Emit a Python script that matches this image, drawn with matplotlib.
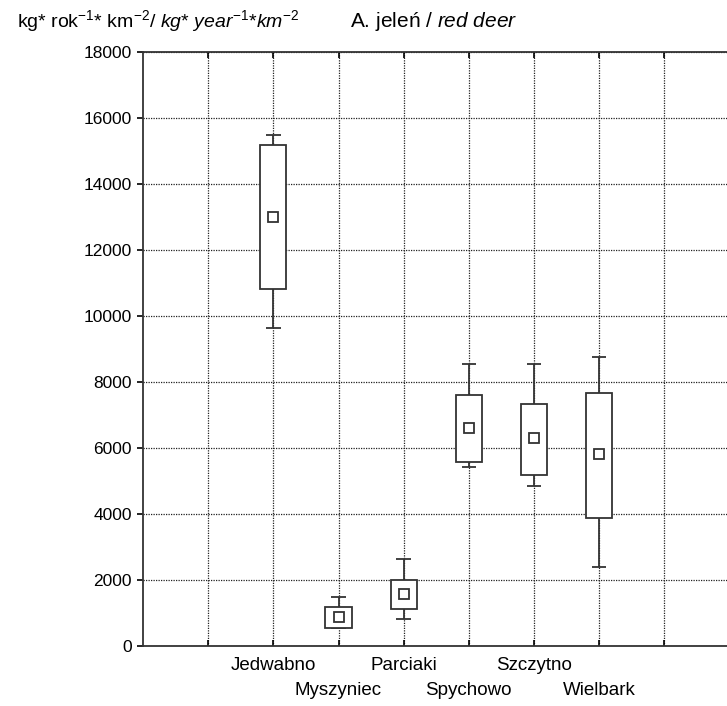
import matplotlib
matplotlib.use("Agg")
import matplotlib.pyplot as plt

plt.rcParams['font.family'] = ['Liberation Sans', 'DejaVu Sans']
plt.rcParams['mathtext.fontset'] = 'custom'
plt.rcParams['mathtext.rm'] = 'Liberation Sans'
plt.rcParams['mathtext.it'] = 'Liberation Sans:italic'

# dane
sites = ['Jedwabno', 'Myszyniec', 'Parciaki', 'Spychowo', 'Szczytno', 'Wielbark']
site_pos = [2, 3, 4, 5, 6, 7]
means = [13000, 880, 1570, 6610, 6290, 5820]
box_low = [10830, 550, 1120, 5580, 5170, 3870]
box_high = [15180, 1190, 2000, 7620, 7330, 7670]
whisk_low = [9640, 550, 820, 5410, 4850, 2400]
whisk_high = [15500, 1500, 2640, 8550, 8550, 8770]

yticks = [0, 2000, 4000, 6000, 8000, 10000, 12000, 14000, 16000, 18000]

fig = plt.figure(figsize=(7.27, 7.06), dpi=100)
ax = fig.add_axes([143/727, 60/706, 586.5/727, 594/706])

ink = '#333333'
ax.bar(site_pos, [h - l for h, l in zip(box_high, box_low)], bottom=box_low,
       width=0.4, color='white', edgecolor=ink, linewidth=1.3, zorder=3)
ax.vlines(site_pos, whisk_low, box_low, color=ink, lw=1.3, zorder=2.5)
ax.vlines(site_pos, box_high, whisk_high, color=ink, lw=1.3, zorder=2.5)
ax.hlines(whisk_low, [p - 0.11 for p in site_pos], [p + 0.11 for p in site_pos], color=ink, lw=1.3, zorder=2.5)
ax.hlines(whisk_high, [p - 0.11 for p in site_pos], [p + 0.11 for p in site_pos], color=ink, lw=1.3, zorder=2.5)
ax.plot(site_pos, means, 's', ms=7.5, mfc='white', mec=ink, mew=1.3, ls='none', zorder=4)

ax.set_xlim(0, 9)
ax.set_ylim(0, 18000)
ax.set_yticks(yticks)
ax.set_yticklabels([str(v) for v in yticks], fontsize=12.5)

# dwa rzedy etykiet: glowne (gorny rzad) i pomocnicze (dolny rzad)
ax.set_xticks([1] + site_pos[0::2] + [8])
ax.set_xticklabels([''] + sites[0::2] + [''], fontsize=13.5)
ax.set_xticks(site_pos[1::2], minor=True)
ax.set_xticklabels(sites[1::2], minor=True, fontsize=13.5)
ax.tick_params(axis='x', which='both', direction='in', length=4, top=True, width=1.2)
ax.tick_params(axis='x', which='major', pad=8)
ax.tick_params(axis='x', which='minor', pad=26)
ax.tick_params(axis='y', direction='out', length=4, width=1.2, pad=4)
ax.grid(True, which='both', color='#222222', ls=(0, (1, 1)), lw=0.9, zorder=0)
ax.set_axisbelow(True)
for s in ax.spines.values():
    s.set_linewidth(1.3)
    s.set_color(ink)

fig.text(17/727, 1 - 27/706,
         r"kg* rok$^{-1}$* km$^{-2}$/ $\mathit{kg}{*}\ \mathit{year}^{-1}{*}\mathit{km}^{-2}$",
         fontsize=14, va='baseline', ha='left')
fig.text(350/727, 1 - 27/706, r"A. jeleń / $\mathit{red\ deer}$", fontsize=15, va='baseline', ha='left')

fig.savefig('out.png', dpi=100)
